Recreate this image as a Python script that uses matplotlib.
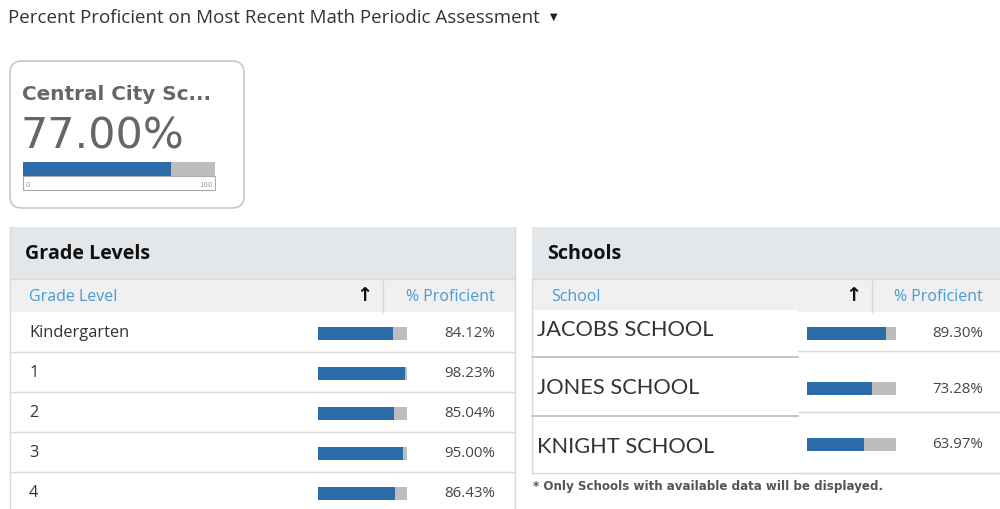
import matplotlib
matplotlib.use("Agg")
import matplotlib.pyplot as plt
from matplotlib.patches import FancyBboxPatch, Rectangle

# ---- data ----
title = "Percent Proficient on Most Recent Math Periodic Assessment"
district_name = "Central City Sc..."
district_pct = 77.00
grades = ["Kindergarten", "1", "2", "3", "4"]
grade_pct = [84.12, 98.23, 85.04, 95.00, 86.43]
schools = ["JACOBS SCHOOL", "JONES SCHOOL", "KNIGHT SCHOOL"]
school_pct = [89.30, 73.28, 63.97]
footnote = "* Only Schools with available data will be displayed."

BLUE = "#2b6ca8"
GREY = "#bdbdbd"
HEAD = "#e3e7ea"
COLHEAD = "#f0f0f0"
LINK = "#4a9bd1"
LINE = "#d9d9d9"
TXT = "#333333"

fig = plt.figure(figsize=(10, 5.1), dpi=100)
ax = fig.add_axes([0, 0, 1, 1])
ax.set_xlim(0, 1000)
ax.set_ylim(510, 0)
ax.axis("off")

ax.text(8, 18, title, fontsize=13.5, family="Open Sans", color="#333333", va="center")
ax.text(554, 17, "\u25bc", fontsize=7, color="#222222", va="center", ha="center")

# ---- KPI card ----
ax.add_patch(FancyBboxPatch((10, 62), 234, 147, boxstyle="round,pad=0,rounding_size=12",
                            fc="white", ec="#c8c8c8", lw=1.2))
ax.text(22, 95, district_name, fontsize=14.4, weight="bold", color="#666666", va="center")
ax.text(21, 137, f"{district_pct:.2f}%", fontsize=31, color="#666666", va="center")
kx, kw = 23, 192
ax.barh(169.5, kw, left=kx, height=14, color=GREY)
ax.barh(169.5, district_pct / 100 * kw, left=kx, height=14, color=BLUE)
ax.add_patch(Rectangle((kx, 177), kw, 14, fc="white", ec="#aaaaaa", lw=0.8))
ax.text(kx + 3, 185, "0", fontsize=5, color="#999999", va="center")
ax.text(kx + kw - 2, 185, "100", fontsize=5, color="#999999", va="center", ha="right")


def header(x0, x1, heading, col_name, divider, arrow_x):
    ax.add_patch(Rectangle((x0, 228), x1 - x0, 52, fc=HEAD, ec="none"))
    ax.text(x0 + 15, 254, heading, fontsize=14.2, weight="bold", family="Open Sans",
            color="#111111", va="center")
    ax.add_patch(Rectangle((x0, 280), x1 - x0, 33, fc=COLHEAD, ec="none"))
    ax.plot([x0, x1], [280, 280], color=LINE, lw=1)
    ax.plot([divider, divider], [280, 313], color=LINE, lw=1)
    ax.text(x0 + 19, 297, col_name, fontsize=11.5, family="Open Sans", color=LINK, va="center")
    ax.text(arrow_x, 296, "\u2191", fontsize=14, weight="bold", color="#111111",
            va="center", ha="center")
    ax.text(x1 - 20, 297, "% Proficient", fontsize=11.5, family="Open Sans", color=LINK,
            va="center", ha="right")


bw = 89

# ---- Grade levels table ----
gx0, gx1 = 10, 515
header(gx0, gx1, "Grade Levels", "Grade Level", 383, 364)
for i, (nm, p) in enumerate(zip(grades, grade_pct)):
    top = 313 + i * 40
    yc = top + 21
    ax.barh(yc, bw, left=318, height=13, color=GREY)
    ax.barh(yc, p / 100 * bw, left=318, height=13, color=BLUE)
    ax.text(gx1 - 20, yc, f"{p:.2f}%", fontsize=10.8, family="Open Sans",
            color="#444444", va="center", ha="right")
    ax.text(gx0 + 19, yc - 1, nm, fontsize=11.8, family="Open Sans", color=TXT, va="center")
    ax.plot([gx0, gx1], [top + 40, top + 40], color=LINE, lw=1)
ax.plot([gx0, gx0], [228, 510], color=LINE, lw=1)
ax.plot([gx1, gx1], [228, 510], color=LINE, lw=1)

# ---- Schools table ----
sx0, sx1, box_r = 532, 1003, 798
header(sx0, sx1, "Schools", "School", 872, 853)
for i, p in enumerate(school_pct):
    yc = 334 + i * 55.5
    ax.barh(yc, bw, left=807, height=13, color=GREY)
    ax.barh(yc, p / 100 * bw, left=807, height=13, color=BLUE)
    ax.text(sx1 - 20, yc, f"{p:.2f}%", fontsize=10.8, family="Open Sans",
            color="#444444", va="center", ha="right")
    ax.plot([box_r, sx1], [352 + i * 61, 352 + i * 61], color=LINE, lw=1)
ax.add_patch(Rectangle((sx0, 311), box_r - sx0, 163, fc="white", ec="none", zorder=3))
for i, nm in enumerate(schools):
    top = 311 + i * 58.5
    ax.text(sx0 + 5, top + 19, nm, fontsize=15.7, family="Lato", color="#333333",
            va="center", zorder=4)
    if i < len(schools) - 1:
        ax.plot([sx0, box_r], [top + 47, top + 47], color="#bbbbbb", lw=1.2, zorder=4)
ax.plot([sx0, sx1], [474, 474], color=LINE, lw=1, zorder=4)
ax.plot([sx0, sx0], [280, 474], color=LINE, lw=1, zorder=4)

ax.text(533, 487, footnote, fontsize=8.6, weight="bold", color="#555555", va="center")

fig.savefig("out.png", dpi=100)
